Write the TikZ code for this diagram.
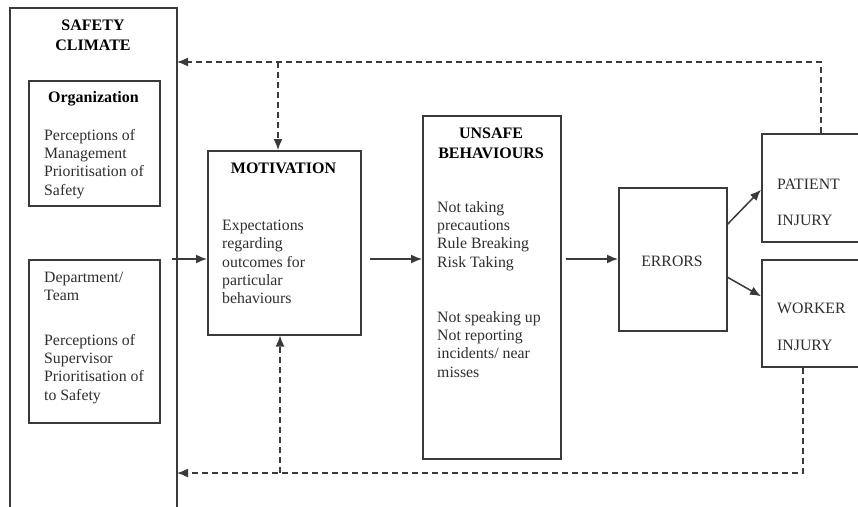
\documentclass[tikz,border=0pt]{standalone}
\usepackage{fontspec}
\setmainfont{Liberation Serif}
\usetikzlibrary{arrows.meta,calc}
\definecolor{ln}{HTML}{3A3A3A}
\definecolor{tx}{HTML}{2E2E2E}
\tikzset{
  box/.style={draw=ln, line width=1.5pt, rectangle, anchor=north west, inner sep=0pt},
  txt/.style={text=tx, anchor=north west, align=left, inner sep=0pt, font=\fontsize{15.8}{18.3}\selectfont},
  head/.style={text=black, anchor=north, align=center, inner sep=0pt, font=\fontsize{16}{19.5}\selectfont\bfseries},
  arr/.style={draw=ln, line width=1.5pt, -{Latex[length=11pt,width=9pt]}},
  darr/.style={draw=ln, line width=1.5pt, dash pattern=on 6pt off 4pt, -{Latex[length=11pt,width=9pt]}},
}
\begin{document}
\begin{tikzpicture}[x=1pt,y=-1pt]
\useasboundingbox (0,0) rectangle (858,506);
\clip (0,0) rectangle (858,506);
\fill[white] (0,0) rectangle (858,506);
% Safety climate open box
\draw[ln, line width=1.5pt] (10,520) -- (10,8) -- (177,8) -- (177,520);
\node[head] (sc) at (93,20) {SAFETY\\CLIMATE};
\coordinate (scTop) at (177,62);
\coordinate (scBot) at (177,473);
\coordinate (scout) at (172,259);
% boxes
\node[box, minimum width=131, minimum height=125] (org) at (28,80) {};
\node[box, minimum width=131, minimum height=163] (dept) at (28,259) {};
\node[box, minimum width=153, minimum height=184] (motiv) at (207,150) {};
\node[box, minimum width=138, minimum height=343] (unsafe) at (422,115) {};
\node[box, minimum width=108, minimum height=143] (errors) at (618,187) {};
\node[box, minimum width=130, minimum height=108] (patient) at (761,133) {};
\node[box, minimum width=130, minimum height=107] (worker) at (761,259) {};
% texts
\node[head] (orgh) at (93.5,91) {Organization};
\node[txt] (orgt) at (44,129) {Perceptions of\\Management\\Prioritisation of\\Safety};
\node[txt] (deptt) at (44,272) {Department/\\Team};
\node[txt] (deptp) at (44,334) {Perceptions of\\Supervisor\\Prioritisation of\\to Safety};
\node[head] (motivh) at (283.5,163) {MOTIVATION};
\node[txt] (motivt) at (222,220) {Expectations\\regarding\\outcomes for\\particular\\behaviours};
\node[head] (unsafeh) at (491,128) {UNSAFE\\BEHAVIOURS};
\node[txt] (unsafe1) at (437,201) {Not taking\\precautions\\Rule Breaking\\Risk Taking};
\node[txt] (unsafe2) at (437,311) {Not speaking up\\Not reporting\\incidents/ near\\misses};
\node[txt, anchor=center] (errt) at (672,261) {ERRORS};
\node[txt, font=\fontsize{15.8}{36}\selectfont] (patt) at (777,179) {PATIENT\\INJURY};
\node[txt, font=\fontsize{15.8}{37}\selectfont] (work) at (777,303) {WORKER\\INJURY};
% solid arrows
\draw[arr] (scout) -- (scout -| motiv.west);
\draw[arr] ([xshift=8pt]scout -| motiv.east) -- (scout -| unsafe.west);
\draw[arr] ([xshift=4pt]scout -| unsafe.east) -- (scout -| errors.west);
\draw[arr] ([yshift=35pt]errors.east) -- ([yshift=-2pt]patient.west);
\draw[arr] ([yshift=-18pt]errors.east) -- ([yshift=17pt]worker.west);
% dashed feedback
\draw[darr] ([xshift=-6pt]patient.north) |- (scTop);
\coordinate (tapA) at (278,62);
\draw[darr] (tapA) -- (tapA |- motiv.north);
\draw[darr] ([xshift=-24pt]worker.south) |- (scBot);
\coordinate (tapB) at (280,473);
\draw[darr] (tapB) -- (tapB |- motiv.south);
\end{tikzpicture}
\end{document}
